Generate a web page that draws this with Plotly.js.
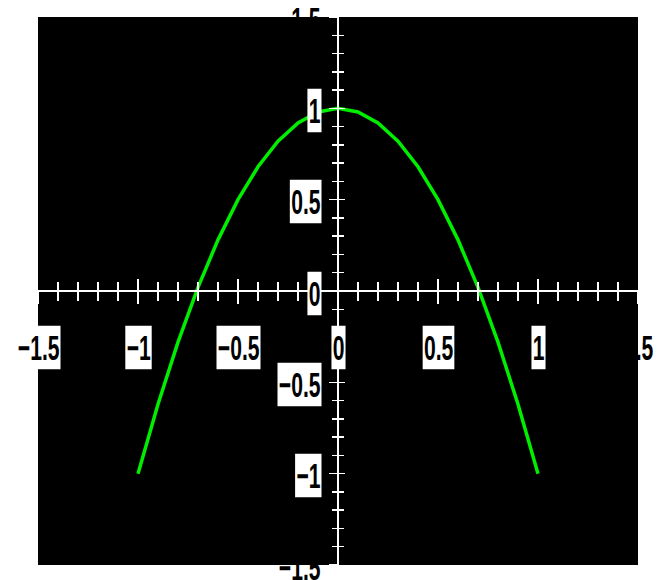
<!DOCTYPE html>
<html>
<head>
<meta charset="utf-8">
<script src="https://cdn.plot.ly/plotly-3.0.1.min.js"></script>
<style>html,body{margin:0;padding:0;background:#fff;}</style>
</head>
<body>
<div id="chart" style="width:658px;height:580px;"></div>
<script>
// Curve samples
const xValues = [-1, -0.9, -0.8, -0.7, -0.6, -0.5, -0.4, -0.3, -0.2, -0.1, 0, 0.1, 0.2, 0.3, 0.4, 0.5, 0.6, 0.7, 0.8, 0.9, 1];
const yValues = [-1, -0.62, -0.28, 0.02, 0.28, 0.5, 0.68, 0.82, 0.92, 0.98, 1, 0.98, 0.92, 0.82, 0.68, 0.5, 0.28, 0.02, -0.28, -0.62, -1];

// Tick labels
const xTickVals = [-1.5, -1, -0.5, 0, 0.5, 1, 1.5];
const xTickText = ['\u22121.5', '\u22121', '\u22120.5', '0', '0.5', '1', '1.5'];
const yTickVals = [1.5, 1, 0.5, 0, -0.5, -1, -1.5];
const yTickText = ['1.5', '1', '0.5', '0', '\u22120.5', '\u22121', '\u22121.5'];

const axisRange = [-1.5, 1.5];
const labelFont = {family: '"Liberation Sans", Arial, sans-serif', size: 24, color: '#000', weight: 'bold'};
const SX = 0.88, SY = 1.45; // narrow, tall lettering of the original

const traces = [{
  x: xValues, y: yValues, type: 'scatter', mode: 'lines',
  xaxis: 'x2', yaxis: 'y2',
  line: {color: '#00ee00', width: 3.5},
  hoverinfo: 'skip', showlegend: false
}];

const annotations = [];
const underIdx = [];
const rightAnchored = [];
xTickVals.forEach((v, i) => {
  if (v === axisRange[1]) underIdx.push(annotations.length);
  annotations.push({
    xref: 'x', yref: 'y', x: v, y: 0, text: xTickText[i], showarrow: false,
    xanchor: 'center', yanchor: 'middle', yshift: -56,
    bgcolor: '#ffffff', borderpad: 1, font: labelFont
  });
});
yTickVals.forEach((v, i) => {
  if (v === axisRange[0] || v === axisRange[1]) underIdx.push(annotations.length);
  rightAnchored.push(annotations.length);
  annotations.push({
    xref: 'x', yref: 'y', x: 0, y: v, text: yTickText[i], showarrow: false,
    xanchor: 'right', yanchor: 'middle', xshift: -16, yshift: -2,
    bgcolor: '#ffffff', borderpad: 1, font: labelFont
  });
});

const tickCommon = {tickcolor: '#ffffff', tickwidth: 1.5};
const layout = {
  width: 658, height: 580,
  margin: {l: 38, r: 20, t: 17, b: 15, pad: 0},
  paper_bgcolor: '#ffffff', plot_bgcolor: '#000000',
  showlegend: false,
  xaxis: Object.assign({
    range: axisRange, anchor: 'free', position: 0.5,
    showgrid: false, zeroline: false, showticklabels: false,
    showline: true, linecolor: '#ffffff', linewidth: 2,
    ticks: 'outside', tick0: 0, dtick: 0.5, ticklen: 12,
    minor: {ticks: 'outside', dtick: 0.1, ticklen: 9, tickcolor: '#ffffff', tickwidth: 1.5, showgrid: false}
  }, tickCommon),
  yaxis: Object.assign({
    range: axisRange, anchor: 'free', position: 0.5,
    showgrid: false, zeroline: false, showticklabels: false,
    showline: true, linecolor: '#ffffff', linewidth: 2,
    ticks: 'outside', tick0: 0, dtick: 0.5, ticklen: 8,
    minor: {ticks: 'outside', dtick: 0.1, ticklen: 5, tickcolor: '#ffffff', tickwidth: 1.5, showgrid: false}
  }, tickCommon),
  xaxis2: Object.assign({
    range: axisRange, overlaying: 'x', anchor: 'free', position: 0.5,
    showgrid: false, zeroline: false, showticklabels: false, showline: false,
    ticks: 'inside', tick0: 0, dtick: 0.5, ticklen: 12,
    minor: {ticks: 'inside', dtick: 0.1, ticklen: 9, tickcolor: '#ffffff', tickwidth: 1.5, showgrid: false}
  }, tickCommon),
  yaxis2: Object.assign({
    range: axisRange, overlaying: 'y', anchor: 'free', position: 0.5,
    showgrid: false, zeroline: false, showticklabels: false, showline: false,
    ticks: 'inside', tick0: 0, dtick: 0.5, ticklen: 6,
    minor: {ticks: 'inside', dtick: 0.1, ticklen: 5, tickcolor: '#ffffff', tickwidth: 1.5, showgrid: false}
  }, tickCommon),
  annotations: annotations
};

Plotly.newPlot('chart', traces, layout, {displayModeBar: false, staticPlot: true}).then(gd => {
  try {
    const groups = Array.from(gd.querySelectorAll('.infolayer g.annotation'));
    // condense the lettering around each label's anchor point
    groups.forEach(g => {
      const idx = +g.getAttribute('data-index');
      const b = g.getBBox();
      const ax = rightAnchored.includes(idx) ? b.x + b.width : b.x + b.width / 2;
      const ay = b.y + b.height / 2;
      g.setAttribute('transform',
        'translate(' + ax + ',' + ay + ') scale(' + SX + ',' + SY + ') translate(' + (-ax) + ',' + (-ay) + ')');
    });
    // edge labels sit beneath the plot background, as in the original
    const main = gd.querySelector('svg.main-svg');
    const bg = main.querySelector('.bglayer');
    groups.filter(g => underIdx.includes(+g.getAttribute('data-index')))
          .forEach(g => main.insertBefore(g, bg));
  } catch (e) {}
});
</script>
</body>
</html>
